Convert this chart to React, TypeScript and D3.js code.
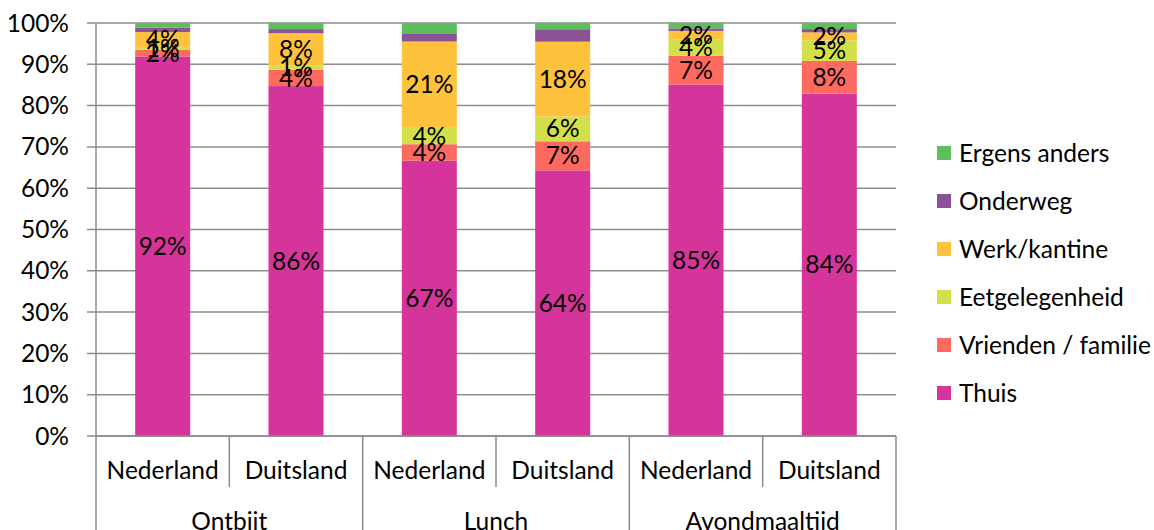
import React from "react";
import * as d3 from "d3";

const meals = ["Ontbijt", "Lunch", "Avondmaaltijd"];
const countries = ["Nederland", "Duitsland"];
const seriesNames = ["Thuis", "Vrienden / familie", "Eetgelegenheid", "Werk/kantine", "Onderweg", "Ergens anders"];
const seriesColors = ["#D5359A", "#FF6A60", "#D3E04A", "#FFC23D", "#8B5396", "#5CBF5C"];
const labeledSeries = [true, true, true, true, false, false];

// raw percentages per bar (Ontbijt NL, Ontbijt DE, Lunch NL, Lunch DE, Avond NL, Avond DE)
const thuis = [92, 86, 67, 64, 85, 84];
const vrienden = [1.6, 4, 4, 7, 7, 8];
const eetgelegenheid = [0.7, 1, 4, 6, 4, 5];
const werk = [3.6, 8, 21, 18, 2, 2];
const onderweg = [1.1, 1, 2, 3, 0.6, 0.8];
const ergens = [1.1, 1.5, 2.5, 1.5, 1.3, 1.5];
const yTicks = [0, 0.1, 0.2, 0.3, 0.4, 0.5, 0.6, 0.7, 0.8, 0.9, 1];

const seriesValues = [thuis, vrienden, eetgelegenheid, werk, onderweg, ergens];

export default function App() {
  const W = 1154, H = 530;
  const left = 96, right = 896, top = 23, bottom = 436;
  const font = "Lato, sans-serif";
  const fs = 24.5;

  const barKeys: string[] = [];
  meals.forEach((m) => countries.forEach((c) => barKeys.push(m + "|" + c)));

  const rows = barKeys.map((k, i) => {
    const r: any = { key: k };
    seriesNames.forEach((s, j) => (r[s] = seriesValues[j][i]));
    return r;
  });

  const stack = d3.stack<any>().keys(seriesNames).offset(d3.stackOffsetExpand);
  const stacked = stack(rows);

  const x = d3.scaleBand().domain(barKeys).range([left, right]).paddingInner(0.5875).paddingOuter(0.29375);
  const y = d3.scaleLinear().domain([0, 1]).range([bottom, top]);
  const step = x.step();
  const fmt = d3.format(".0%");

  return (
    <svg width={W} height={H} style={{ position: "absolute", left: 0, top: 0 }} fontFamily={font}>
      <rect width={W} height={H} fill="#fff" />
      {/* gridlines */}
      {yTicks.map((t) => (
        <line key={t} x1={left - 9} x2={right} y1={y(t)} y2={y(t)} stroke="#8C8C8C" strokeWidth={1.5} />
      ))}
      {/* y axis line */}
      <line x1={left} x2={left} y1={top} y2={bottom} stroke="#8C8C8C" strokeWidth={1.5} />
      {yTicks.map((t) => (
        <text key={"l" + t} x={69} y={y(t)} dy="0.35em" textAnchor="end" fontSize={fs} fill="#000">
          {fmt(t)}
        </text>
      ))}
      {/* bars */}
      {stacked.map((layer, si) =>
        layer.map((d, bi) => (
          <rect
            key={si + "-" + bi}
            x={x(barKeys[bi])}
            width={x.bandwidth()}
            y={y(d[1])}
            height={y(d[0]) - y(d[1])}
            fill={seriesColors[si]}
          />
        ))
      )}
      {/* labels */}
      {stacked.map((layer, si) =>
        labeledSeries[si]
          ? layer.map((d, bi) => (
              <text
                key={"t" + si + "-" + bi}
                x={(x(barKeys[bi]) as number) + x.bandwidth() / 2}
                y={y((d[0] + d[1]) / 2)}
                dy="0.35em"
                textAnchor="middle"
                fontSize={fs}
                fill="#000"
              >
                {Math.round(seriesValues[si][bi]) + "%"}
              </text>
            ))
          : null
      )}
      {/* x axis */}
      <line x1={left} x2={right} y1={bottom} y2={bottom} stroke="#8C8C8C" strokeWidth={1.5} />
      {barKeys.map((k, i) => {
        const x0 = (x(k) as number) + x.bandwidth() / 2 - step / 2;
        const isGroupStart = i % 2 === 0;
        return (
          <line key={"sep" + i} x1={x0} x2={x0} y1={bottom} y2={isGroupStart ? H : 487} stroke="#8C8C8C" strokeWidth={1.5} />
        );
      })}
      <line x1={right} x2={right} y1={bottom} y2={H} stroke="#8C8C8C" strokeWidth={1.5} />
      {barKeys.map((k, i) => (
        <text key={"c" + i} x={(x(k) as number) + x.bandwidth() / 2} y={470} dy="0.35em" textAnchor="middle" fontSize={fs} fill="#000">
          {countries[i % 2]}
        </text>
      ))}
      {meals.map((m, mi) => {
        const cx = ((x(barKeys[mi * 2]) as number) + (x(barKeys[mi * 2 + 1]) as number) + x.bandwidth()) / 2;
        return (
          <text key={m} x={cx} y={521} dy="0.35em" textAnchor="middle" fontSize={fs} fill="#000">
            {m}
          </text>
        );
      })}
      {/* legend */}
      {seriesNames
        .map((s, i) => ({ s, i }))
        .reverse()
        .map(({ s, i }, ri) => {
          const cy = 153 + ri * 48;
          return (
            <g key={s}>
              <rect x={937} y={cy - 7} width={14} height={14} fill={seriesColors[i]} />
              <text x={959} y={cy} dy="0.35em" fontSize={fs} fill="#000">
                {s}
              </text>
            </g>
          );
        })}
    </svg>
  );
}
